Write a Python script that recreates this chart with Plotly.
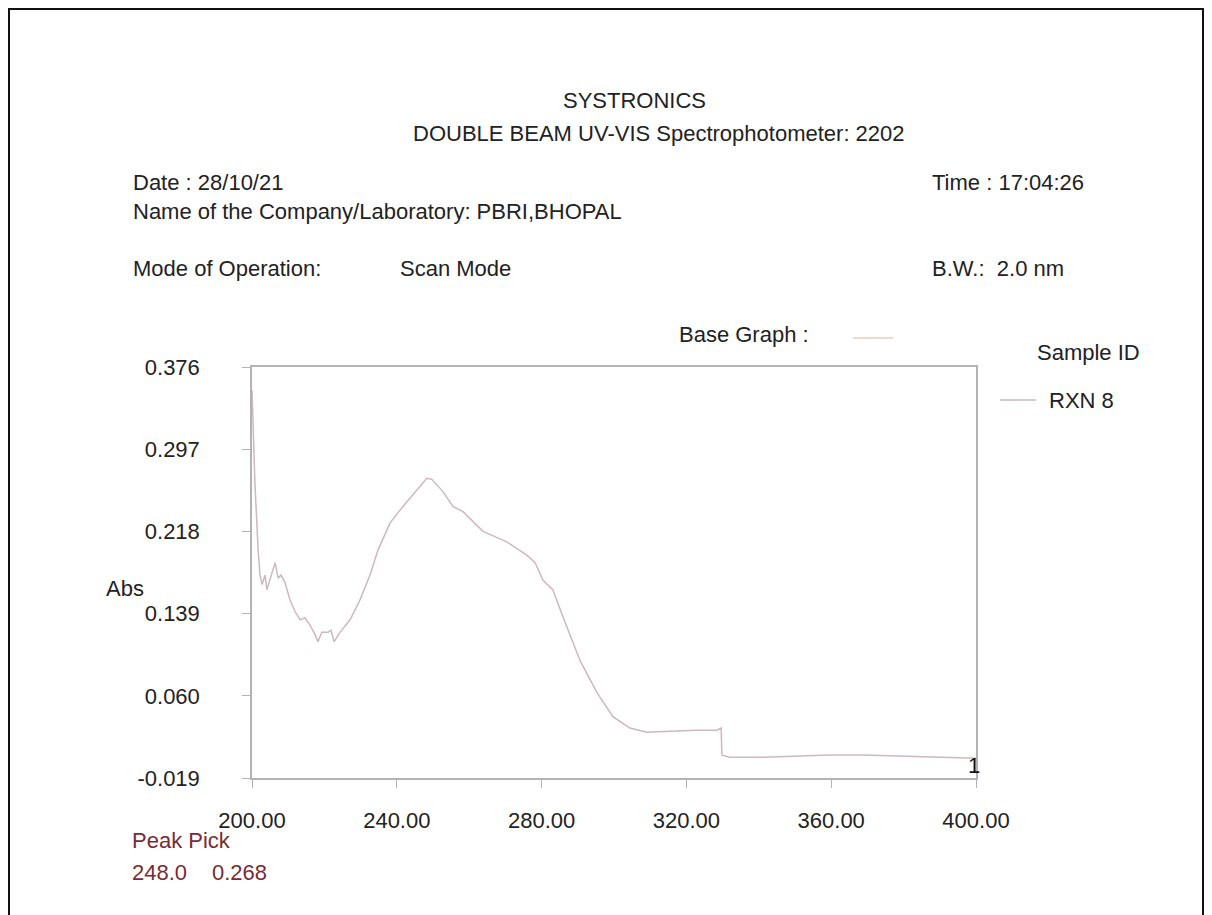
import plotly.graph_objects as go

# Wavelength (nm) and absorbance
wavelength = [200.0, 200.8, 201.7, 202.2, 202.8, 203.6, 204.1, 205.0, 206.4, 207.2, 208.0, 209.1,
              210.5, 211.9, 213.3, 214.6, 216.0, 217.4, 218.2, 219.3, 221.0, 221.8, 222.7, 224.3,
              227.1, 229.8, 232.6, 234.8, 238.1, 241.7, 245.6, 248.3, 249.7, 252.8, 255.5, 258.3,
              263.8, 267.1, 270.4, 276.0, 278.2, 280.4, 283.1, 285.9, 290.6, 295.3, 299.7, 304.4,
              309.1, 315.5, 322.9, 328.5, 329.6, 329.8, 332.0, 341.2, 350.6, 359.7, 368.8, 378.2,
              387.3, 400.0]
absorbance = [0.354, 0.265, 0.200, 0.176, 0.167, 0.176, 0.162, 0.173, 0.188, 0.173, 0.176, 0.169,
              0.152, 0.141, 0.133, 0.135, 0.128, 0.119, 0.112, 0.121, 0.121, 0.123, 0.112, 0.121,
              0.133, 0.152, 0.176, 0.200, 0.226, 0.242, 0.258, 0.269, 0.268, 0.256, 0.242, 0.237,
              0.218, 0.213, 0.208, 0.195, 0.188, 0.171, 0.162, 0.136, 0.094, 0.063, 0.040, 0.029,
              0.025, 0.026, 0.027, 0.027, 0.029, 0.003, 0.001, 0.001, 0.002, 0.003, 0.003, 0.002,
              0.001, 0.000]

x_ticks = [200, 240, 280, 320, 360, 400]
x_tick_labels = ["200.00", "240.00", "280.00", "320.00", "360.00", "400.00"]
y_ticks = [-0.019, 0.060, 0.139, 0.218, 0.297, 0.376]
y_tick_labels = ["-0.019", "0.060", "0.139", "0.218", "0.297", "0.376"]

OFF = 8  # page body margin in the browser
W, H = 1212 - OFF, 915 - OFF
L, R, T, B = 252, 976, 367, 778  # plot area in screenshot pixels


def px(x):
    return (x - L) / (R - L)


def py(y):
    return (B - y) / (B - T)


FONT = "Liberation Sans, Arial, sans-serif"
TXT = "#222222"
RED = "#7a2b36"
LINE = "#cdb9bd"
FS = 22

fig = go.Figure()
fig.add_trace(go.Scatter(x=wavelength, y=absorbance, mode="lines",
                         line=dict(color=LINE, width=1.5), showlegend=False,
                         hoverinfo="skip"))

ann = []


def text(s, x, y, anchor="left", color=TXT, size=FS):
    ann.append(dict(text=s, x=px(x), y=py(y), xref="paper", yref="paper",
                    xanchor=anchor, yanchor="middle", showarrow=False,
                    font=dict(family=FONT, size=size, color=color)))


text("SYSTRONICS", 634, 101, "center")
text("DOUBLE BEAM UV-VIS Spectrophotometer: 2202", 659, 133, "center")
text("Date : 28/10/21", 131, 182)
text("Time : 17:04:26", 930, 182)
text("Name of the Company/Laboratory: PBRI,BHOPAL", 131, 212)
text("Mode of Operation:", 131, 268)
text("Scan Mode", 398, 268)
text("B.W.:  2.0 nm", 930, 268)
text("Base Graph :", 677, 334)
text("Sample ID", 1035, 352)
text("RXN 8", 1047, 400)
text("Abs", 104, 588)
text("1", 966, 765, "left", "#111111", FS)
text("Peak Pick", 130, 840, "left", RED)
text("248.0", 130, 872, "left", RED)
text("0.268", 210, 872, "left", RED)

shapes = [
    dict(type="line", xref="paper", yref="paper", x0=px(853), x1=px(893), y0=py(338), y1=py(338),
         line=dict(color="#e6cfc2", width=1.5)),
    dict(type="line", xref="paper", yref="paper", x0=px(1000), x1=px(1036), y0=py(400), y1=py(400),
         line=dict(color=LINE, width=1.5)),
    dict(type="rect", xref="paper", yref="paper", x0=px(9), x1=px(1203), y0=py(9), y1=py(925),
         line=dict(color="#111111", width=2)),
]

fig.update_layout(
    width=W, height=H,
    margin=dict(l=L - OFF, r=(1212 - R), t=T - OFF, b=(915 - B)),
    paper_bgcolor="white", plot_bgcolor="white",
    annotations=ann, shapes=shapes,
    font=dict(family=FONT, size=FS, color=TXT),
)
fig.update_xaxes(range=[200, 400], tickvals=x_ticks, ticktext=x_tick_labels,
                 showline=True, mirror=True, linecolor="#b3b3b3", linewidth=1.5,
                 ticks="outside", ticklen=8, tickcolor="#b3b3b3", showgrid=False,
                 zeroline=False, ticklabelstandoff=14,
                 tickfont=dict(family=FONT, size=FS, color=TXT))
fig.update_yaxes(range=[-0.019, 0.376], tickvals=y_ticks, ticktext=y_tick_labels,
                 showline=True, mirror=True, linecolor="#b3b3b3", linewidth=1.5,
                 ticks="outside", ticklen=8, tickcolor="#b3b3b3", showgrid=False,
                 zeroline=False, ticklabelstandoff=38,
                 tickfont=dict(family=FONT, size=FS, color=TXT))

fig.write_html("out.html")
